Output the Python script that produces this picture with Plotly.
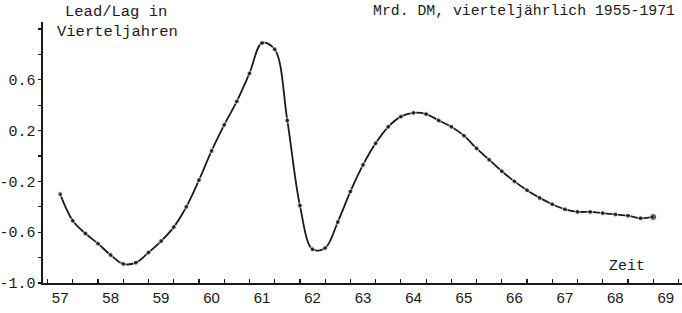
import plotly.graph_objects as go

# quarterly time axis (years 19xx, first quarter of 1957 .. last quarter of 1968)
quarters = [57 + 0.25 * i for i in range(48)]
lead_lag = [
    -0.30, -0.51, -0.61, -0.69, -0.78, -0.85, -0.84, -0.76, -0.67, -0.56,
    -0.40, -0.19, 0.04, 0.245, 0.43, 0.65, 0.89, 0.84, 0.28, -0.39,
    -0.735, -0.725, -0.52, -0.28, -0.07, 0.10, 0.23, 0.31, 0.34, 0.33,
    0.28, 0.23, 0.16, 0.06, -0.03, -0.12, -0.20, -0.27, -0.33, -0.38,
    -0.42, -0.44, -0.44, -0.45, -0.46, -0.47, -0.49, -0.48,
]
year_ticks = list(range(57, 70))
year_labels = [str(y) for y in year_ticks]
y_ticks = [-1.0, -0.6, -0.2, 0.2, 0.6]
y_labels = ["-1.0", "-0.6", "-0.2", "0.2", "0.6"]

INK = "#1a1a1a"
MONO = "Liberation Mono, DejaVu Sans Mono, monospace"

fig = go.Figure()
fig.add_trace(go.Scatter(
    x=quarters, y=lead_lag, mode="lines+markers",
    line=dict(color=INK, width=1.8, shape="spline", smoothing=1.0),
    marker=dict(color=INK, size=[5] * 47 + [7]),
    showlegend=False, cliponaxis=False, hoverinfo="skip",
))

fig.update_layout(
    width=682, height=313,
    margin=dict(l=43, r=0, t=22, b=30),
    paper_bgcolor="white", plot_bgcolor="white",
    xaxis=dict(
        range=[56.66, 69.32], showgrid=False, zeroline=False,
        showline=True, linecolor=INK, linewidth=1.6,
        tickvals=year_ticks, ticktext=year_labels,
        ticks="inside", ticklen=0, tickcolor=INK,
        minor=dict(tick0=57.25, dtick=0.5, ticks="inside", ticklen=4,
                   tickcolor=INK, tickwidth=1.2, showgrid=False),
        tickfont=dict(family="Liberation Sans, Arial, sans-serif", size=15, color=INK),
    ),
    yaxis=dict(
        range=[-1.0, 1.055], showgrid=False, zeroline=False,
        showline=True, linecolor=INK, linewidth=1.6,
        tickvals=y_ticks, ticktext=y_labels,
        ticks="outside", ticklen=3, tickcolor=INK, tickwidth=1.2,
        minor=dict(dtick=0.2, tick0=-1.0, ticks="outside", ticklen=3,
                   tickcolor=INK, tickwidth=1.2, showgrid=False),
        tickfont=dict(family=MONO, size=15, color=INK),
    ),
    annotations=[
        dict(text="Lead/Lag in", xref="paper", yref="paper", x=(63 - 43) / 639,
             y=1 + (22 - 12) / 261, xanchor="left", yanchor="middle",
             showarrow=False, font=dict(family=MONO, size=15.5, color=INK)),
        dict(text="Vierteljahren", xref="paper", yref="paper", x=(55 - 43) / 639,
             y=1 + (22 - 32) / 261, xanchor="left", yanchor="middle",
             showarrow=False, font=dict(family=MONO, size=15.5, color=INK)),
        dict(text="Mrd. DM, vierteljährlich 1955-1971", xref="paper", yref="paper",
             x=(371 - 43) / 639, y=1 + (22 - 11) / 261, xanchor="left", yanchor="middle",
             showarrow=False, font=dict(family=MONO, size=14.8, color=INK)),
        dict(text="Zeit", xref="paper", yref="paper", x=(607 - 43) / 639,
             y=(283 - 266) / 261, xanchor="left", yanchor="middle",
             showarrow=False, font=dict(family=MONO, size=15, color=INK)),
    ],
)

fig.write_html(
    "out.html",
    config={"displayModeBar": False, "staticPlot": True},
    post_script="document.documentElement.style.margin='0';"
                "document.body.style.margin='0';document.body.style.padding='0';",
)
